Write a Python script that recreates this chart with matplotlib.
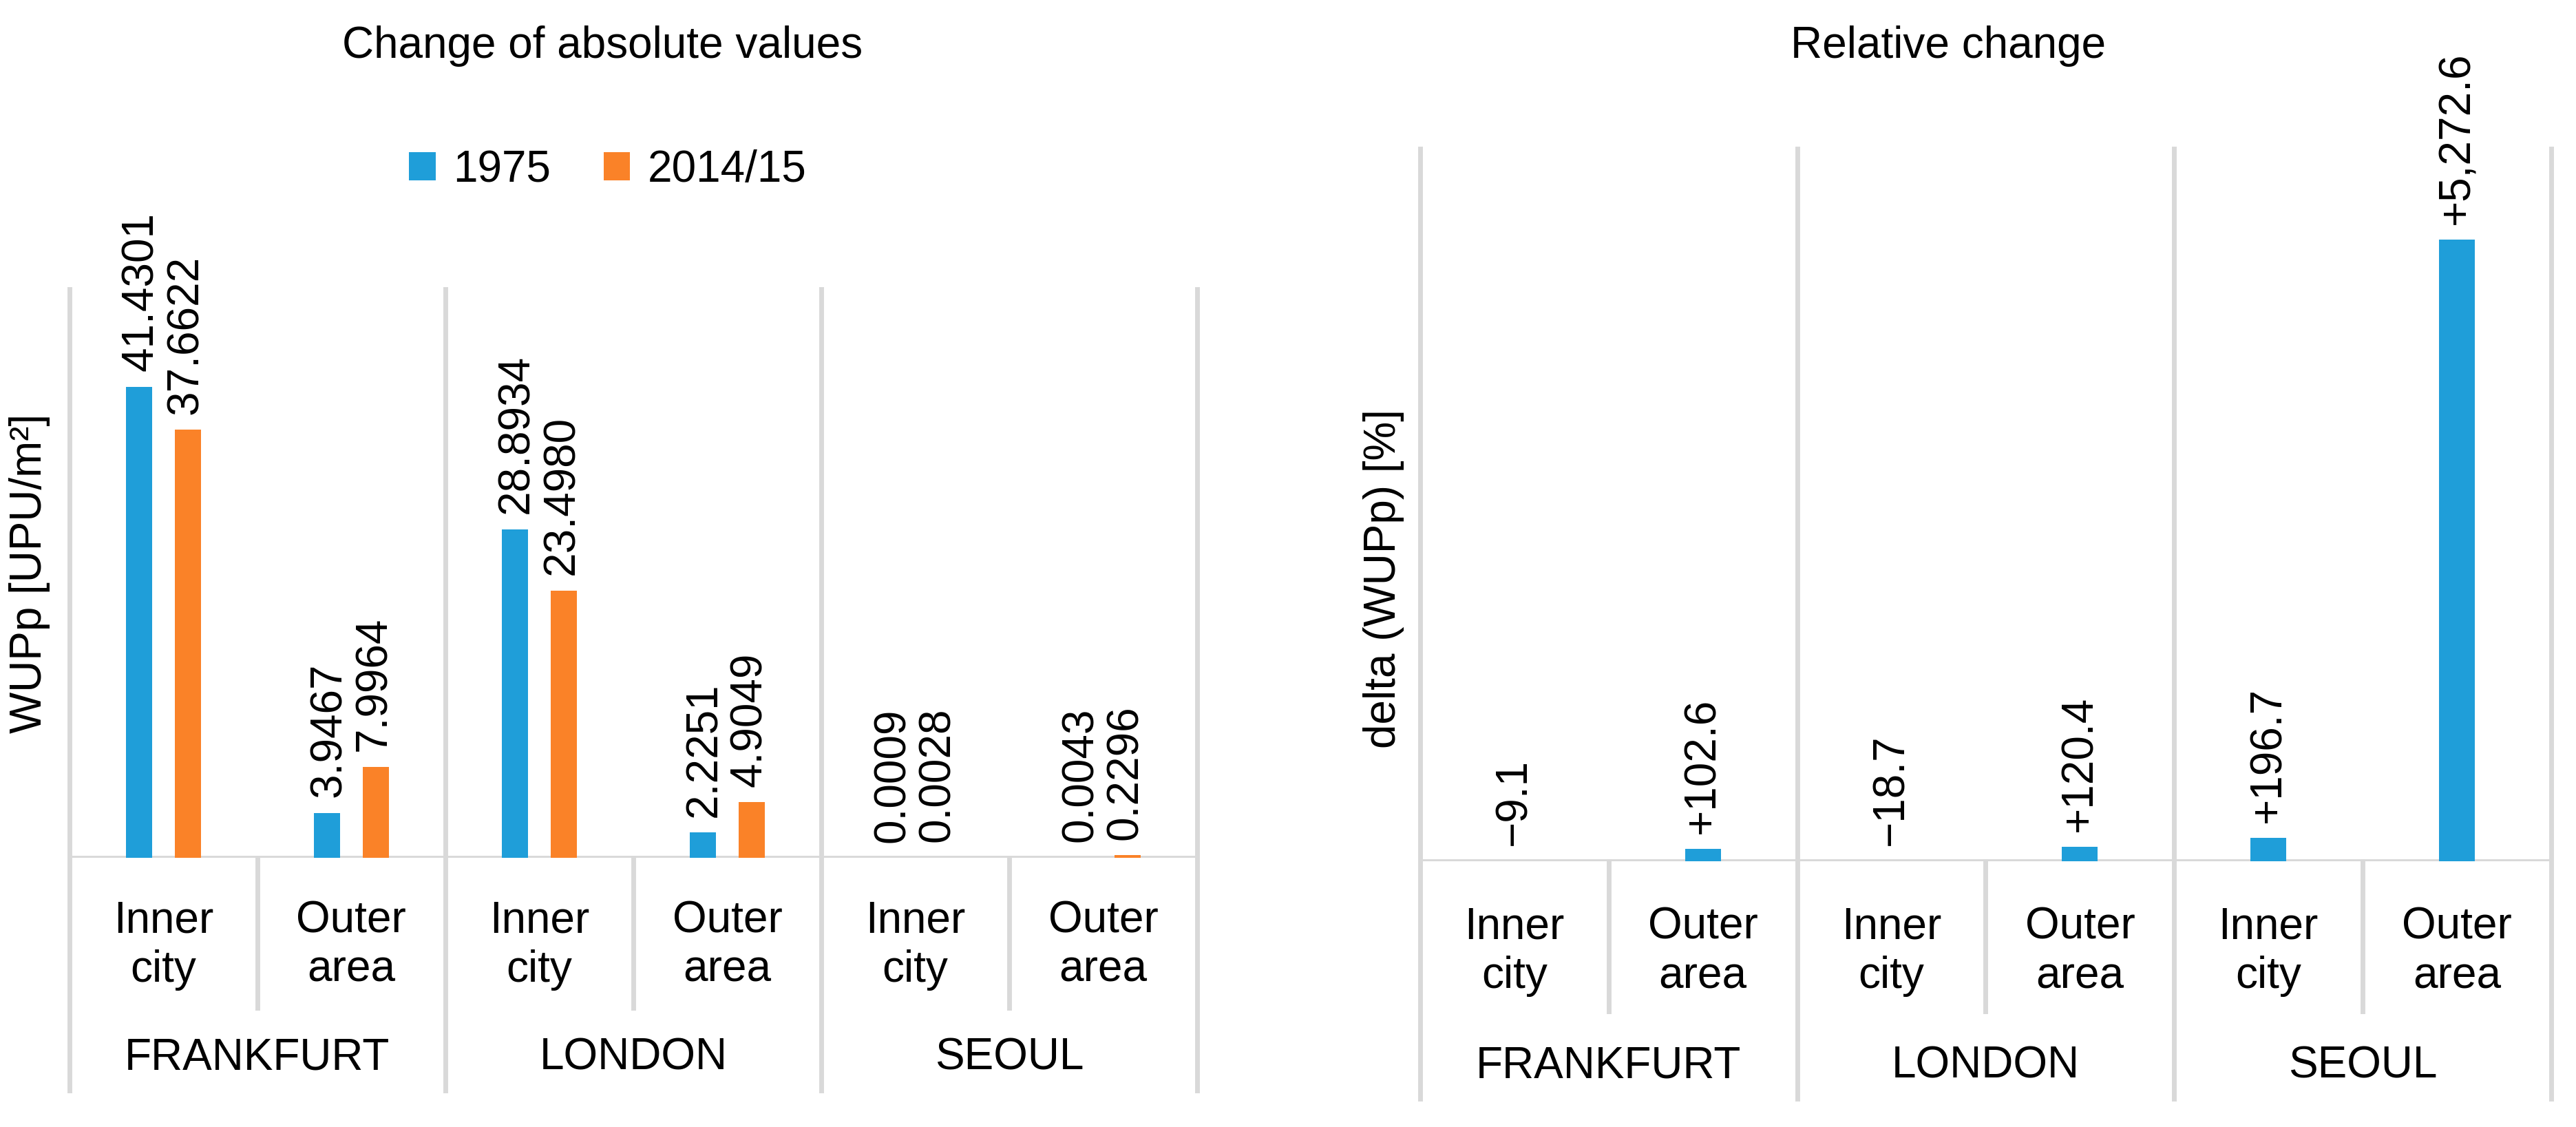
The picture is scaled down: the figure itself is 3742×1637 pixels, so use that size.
import matplotlib
matplotlib.use("Agg")
import matplotlib.pyplot as plt
import matplotlib.transforms as mtrans

plt.rcParams['font.family'] = ['Liberation Sans', 'DejaVu Sans']

groups = ["FRANKFURT", "LONDON", "SEOUL"]
categories = ["Inner\ncity", "Outer\narea"] * 3
v1975 = [41.4301, 3.9467, 28.8934, 2.2251, 0.0009, 0.0043]
v2014 = [37.6622, 7.9964, 23.4980, 4.9049, 0.0028, 0.2296]
rel = [-9.1, 102.6, -18.7, 120.4, 196.7, 5272.6]
rel_labels = ["\u22129.1", "+102.6", "\u221218.7", "+120.4", "+196.7", "+5,272.6"]

BLUE = "#1f9ed9"
ORANGE = "#fa8228"
GRID = "#d9d9d9"
FS = 46
W, H = 1560, 682

fig = plt.figure(figsize=(37.42, 16.37), dpi=100)

def fx(x): return x / W
def fy(y): return 1 - y / H

def frame(ax, top_group, top_cat, bottom_group, bottom_cat, cat_y, grp_y):
    tr = mtrans.blended_transform_factory(ax.transData, fig.transFigure)
    ax.set_xlim(-0.5, 5.5)
    for s in ax.spines.values():
        s.set_visible(False)
    ax.set_xticks([]); ax.set_yticks([])
    ax.axhline(0, color=GRID, lw=5, zorder=0)
    for x in [-0.5, 1.5, 3.5, 5.5]:
        ax.plot([x, x], [fy(top_group), fy(bottom_group)], transform=tr, color=GRID, lw=5, clip_on=False)
    for x in [0.5, 2.5, 4.5]:
        ax.plot([x, x], [fy(top_cat), fy(bottom_cat)], transform=tr, color=GRID, lw=5, clip_on=False)
    for i, c in enumerate(categories):
        ax.text(i, fy(cat_y), c, transform=tr, ha="center", va="center", fontsize=FS, linespacing=1.25)
    for g, gname in enumerate(groups):
        ax.text(2 * g + 0.5, fy(grp_y), gname, transform=tr, ha="center", va="center", fontsize=FS)

# Left chart
ax1 = fig.add_axes([fx(42), fy(519), fx(725) - fx(42), fy(175) - fy(519)])
ax1.set_ylim(0, 50)
frame(ax1, 175, 519, 660, 610, 572, 640)
x = list(range(6))
bw = 0.14
ax1.bar([i - 0.13 for i in x], v1975, width=bw, color=BLUE, label="1975")
ax1.bar([i + 0.13 for i in x], v2014, width=bw, color=ORANGE, label="2014/15")
for i in x:
    ax1.annotate(f"{v1975[i]:.4f}", (i - 0.12, v1975[i]), xytext=(0, 16), textcoords="offset points",
                 rotation=90, ha="center", va="bottom", fontsize=FS)
    ax1.annotate(f"{v2014[i]:.4f}", (i + 0.12, v2014[i]), xytext=(0, 16), textcoords="offset points",
                 rotation=90, ha="center", va="bottom", fontsize=FS)
fig.text(fx(365), fy(28), "Change of absolute values", ha="center", va="center", fontsize=FS)
fig.text(fx(18), fy(347), "WUPp [UPU/m²]", rotation=90, ha="center", va="center", fontsize=FS)
fig.legend(handles=ax1.get_legend_handles_labels()[0], labels=["1975", "2014/15"],
           loc="center", bbox_to_anchor=(fx(368), fy(103)), ncol=2, frameon=False,
           fontsize=FS, handlelength=0.6, handleheight=0.6, columnspacing=1.2, handletextpad=0.4)

# Right chart
ax2 = fig.add_axes([fx(860), fy(521), fx(1545) - fx(860), fy(93) - fy(521)])
ax2.set_ylim(0, 6000)
frame(ax2, 90, 521, 665, 612, 576, 645)
ax2.bar(x, rel, width=0.19, color=BLUE)
for i in x:
    ax2.annotate(rel_labels[i], (i, max(rel[i], 0)), xytext=(0, 16), textcoords="offset points",
                 rotation=90, ha="center", va="bottom", fontsize=FS)
fig.text(fx(1180), fy(28), "Relative change", ha="center", va="center", fontsize=FS)
fig.text(fx(838), fy(350), "delta (WUPp) [%]", rotation=90, ha="center", va="center", fontsize=FS)

fig.savefig("out.png", dpi=100)
